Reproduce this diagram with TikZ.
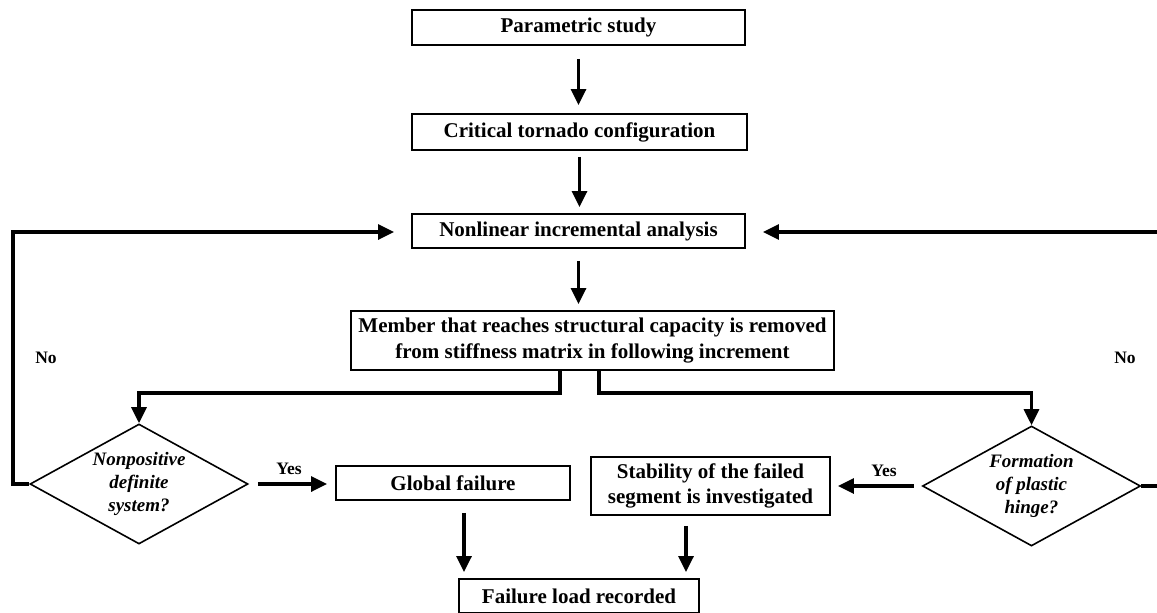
\documentclass[tikz,border=0pt]{standalone}
\usepackage{fontspec}
\setmainfont{Liberation Serif}
\usetikzlibrary{arrows.meta,shapes.geometric}
\tikzset{
  box/.style={draw, line width=1.9pt, inner sep=0pt, align=center, font=\fontsize{21}{25.5}\selectfont\bfseries},
  dia/.style={draw, diamond, line width=1.6pt, inner sep=0pt, minimum width=218pt, minimum height=120pt},
  ditext/.style={align=center, inner sep=0pt, font=\fontsize{19}{23}\selectfont\bfseries\itshape},
  lab/.style={inner sep=0pt, font=\fontsize{17.5}{20}\selectfont\bfseries},
  conn/.style={line width=3.2pt},
  arr/.style={conn, -{Triangle[length=16pt,width=15pt]}},
}
\begin{document}
\begin{tikzpicture}[x=1pt,y=-1pt]
\useasboundingbox (0,0) rectangle (1157,613);
\clip (0,0) rectangle (1157,613);
\node[box, minimum width=333pt, minimum height=35pt] (par) at (578.5,27.5) {Parametric study};
\node[box, minimum width=335pt, minimum height=36pt] (crit) at (579.5,132) {Critical tornado configuration};
\node[box, minimum width=333pt, minimum height=34pt] (nl) at (578.5,231) {Nonlinear incremental analysis};
\node[box, minimum width=483pt, minimum height=59pt] (mem) at (592.5,340.5) {Member that reaches structural capacity is removed\\from stiffness matrix in following increment};
\node[dia] (d1) at (139,484) {};
\node[ditext] (d1t) at (d1.center) {Nonpositive\\definite\\system?};
\node[dia] (d2) at (1031.5,486) {};
\node[ditext] (d2t) at (d2.center) {Formation\\of plastic\\hinge?};
\node[box, minimum width=234pt, minimum height=34pt] (glob) at (453,483) {Global failure};
\node[box, minimum width=239pt, minimum height=58pt] (stab) at (710.5,486) {Stability of the failed\\segment is investigated};
\node[box, minimum width=240pt, minimum height=34pt] (fail) at (579,596) {Failure load recorded};
\node[lab] (no1) at (46,358) {No};
\node[lab] (no2) at (1125,358) {No};
\node[lab] (yes1) at (289,469) {Yes};
\node[lab] (yes2) at (884,471) {Yes};
\coordinate (lc) at (13,232);
\coordinate (rc) at (1170,232);
% main chain
\draw[arr, shorten <=13pt, shorten >=8pt] (par.south) -- (par.south |- crit.north);
\draw[arr, shorten <=6pt, shorten >=6pt] (crit.south) -- (crit.south |- nl.north);
\draw[arr, shorten <=12pt, shorten >=6pt] (nl.south) -- (nl.south |- mem.north);
% branches
\draw[arr] ([xshift=-32.5pt]mem.south) -- ++(0,22) -| (d1.north);
\draw[arr] ([xshift=6.5pt]mem.south) -- ++(0,22) -| (d2.north);
% yes arrows
\draw[arr, shorten <=9pt, shorten >=8pt] (d1.east) -- (d1.east -| glob.west);
\draw[arr, shorten <=8pt, shorten >=7pt] (d2.west) -- (d2.west -| stab.east);
% to failure load
\draw[arr, shorten <=12pt, shorten >=6pt] ([xshift=11pt]glob.south) -- ([xshift=11pt]glob.south |- fail.north);
\draw[arr, shorten <=10pt, shorten >=6pt] ([xshift=-24.5pt]stab.south) -- ([xshift=-24.5pt]stab.south |- fail.north);
% loops
\draw[arr, shorten >=17pt] (d1.west) -| (lc) -- (lc -| nl.west);
\draw[arr, shorten >=17pt] (d2.east) -| (rc) -- (rc -| nl.east);
\end{tikzpicture}
\end{document}
